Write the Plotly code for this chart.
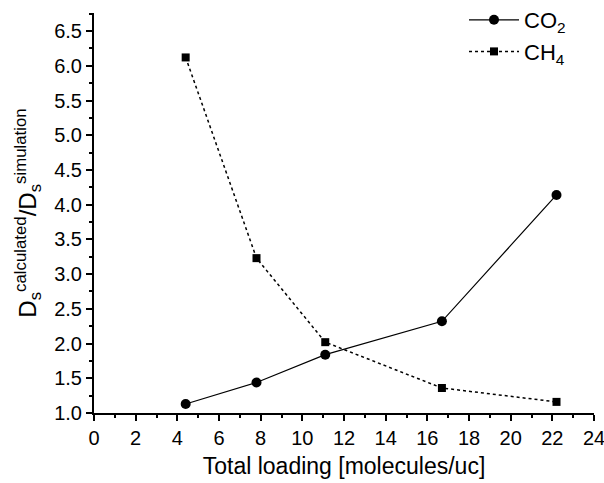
import plotly.graph_objects as go

loading = [4.4, 7.8, 11.1, 16.7, 22.2]
co2 = [1.13, 1.44, 1.84, 2.32, 4.14]
ch4 = [6.12, 3.23, 2.02, 1.36, 1.16]

FONT = "Liberation Sans, Arial, sans-serif"

fig = go.Figure()
fig.add_trace(go.Scatter(
    x=loading, y=co2, mode="lines+markers", name="CO<sub>2</sub>", legendgroup="a",
    line=dict(color="black", width=1.2, dash="solid"),
    marker=dict(symbol="circle", size=10, color="black"),
))
fig.add_trace(go.Scatter(
    x=loading, y=ch4, mode="lines+markers", name="CH<sub>4</sub>", legendgroup="b",
    line=dict(color="black", width=1.5, dash="dot"),
    marker=dict(symbol="square", size=8, color="black"),
))

fig.update_layout(
    width=604, height=483,
    margin=dict(l=94, r=10, t=13, b=70, autoexpand=False),
    plot_bgcolor="white", paper_bgcolor="white",
    font=dict(family=FONT, color="black", size=20),
    showlegend=True,
    legend=dict(x=0.74, y=1.035, xanchor="left", yanchor="top", tracegroupgap=0,
                itemwidth=50,
                bgcolor="rgba(0,0,0,0)", font=dict(size=22, family=FONT)),
    xaxis=dict(
        range=[0, 24], tickmode="linear", tick0=0, dtick=2,
        showgrid=False, zeroline=False, automargin=False,
        ticklabeloverflow="allow",
        showline=True, linecolor="black", linewidth=2,
        ticks="outside", ticklen=6, tickwidth=2, tickcolor="black",
        minor=dict(dtick=1, ticks="outside", ticklen=3, tickwidth=2, tickcolor="black"),
        tickfont=dict(size=20, family=FONT),
        title=dict(text="Total loading [molecules/uc]", font=dict(size=23, family=FONT), standoff=10),
    ),
    yaxis=dict(
        range=[1.0, 6.76], tickmode="linear", tick0=1.0, dtick=0.5,
        tickformat=".1f",
        showgrid=False, zeroline=False, automargin=False,
        ticklabeloverflow="allow",
        showline=True, linecolor="black", linewidth=2,
        ticks="outside", ticklen=6, tickwidth=2, tickcolor="black",
        minor=dict(dtick=0.25, ticks="outside", ticklen=3, tickwidth=2, tickcolor="black"),
        tickfont=dict(size=20, family=FONT),
        title=dict(text="D<sub>s</sub><sup>calculated</sup>/D<sub>s</sub><sup>simulation</sup>",
                   font=dict(size=24, family=FONT), standoff=11),
    ),
)

fig.write_html("out.html")
